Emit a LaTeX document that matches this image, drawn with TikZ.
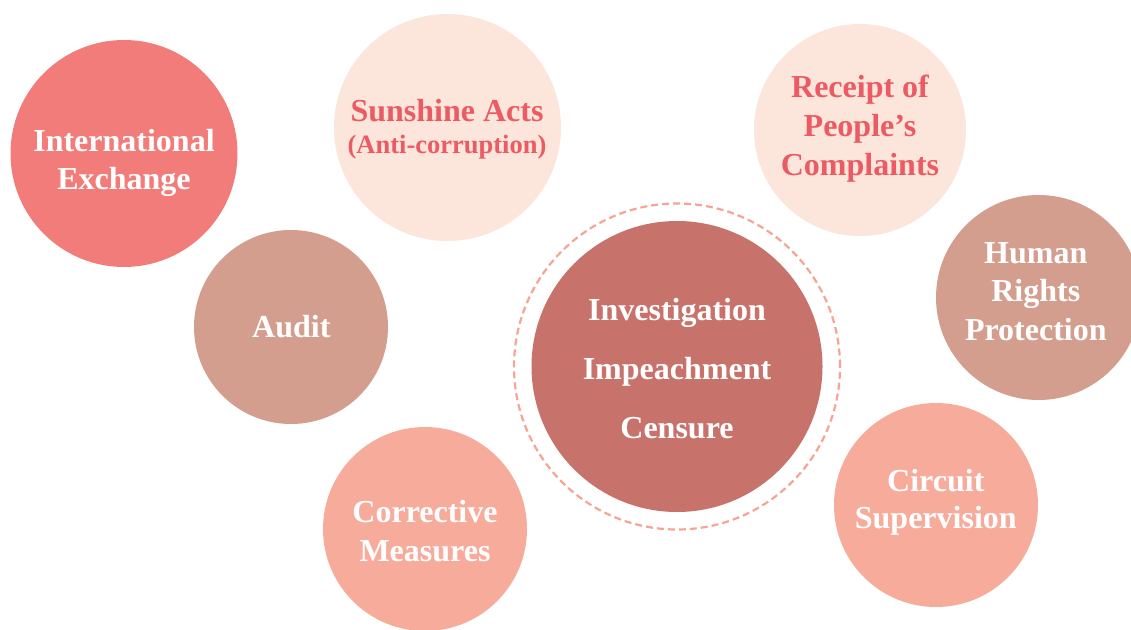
\documentclass[tikz,border=0pt]{standalone}
\usepackage{fontspec}
\setmainfont{Liberation Serif}
\definecolor{cIE}{HTML}{F27C7A}
\definecolor{cPale}{HTML}{FCE5DA}
\definecolor{cRedTxt}{HTML}{EC5A63}
\definecolor{cTaupe}{HTML}{D49E8E}
\definecolor{cCore}{HTML}{C7736B}
\definecolor{cSalmon}{HTML}{F7AB9B}
\definecolor{cRing}{HTML}{F4A595}
\begin{document}
\begin{tikzpicture}[x=1pt,y=-1pt,
  disc/.style={circle, inner sep=0pt, draw=none, minimum size=#1},
  lbl/.style={font=\bfseries\fontsize{32}{37}\selectfont, text=white, inner sep=0pt, anchor=base},
  lblred/.style={lbl, text=cRedTxt},
  lblsmall/.style={lblred, font=\bfseries\fontsize{26.5}{31}\selectfont},
  ring/.style={circle, inner sep=0pt, draw=cRing, line width=2.2pt, dash pattern=on 7pt off 4pt, minimum size=#1}]
\useasboundingbox (0,0) rectangle (1131,629);
\fill[white] (0,0) rectangle (1131,629);
% circles
\node[disc=227pt, fill=cIE] (ie) at (124,153.5) {};
\node[disc=227pt, fill=cPale] (sun) at (447.5,127.5) {};
\node[disc=212pt, fill=cPale] (rec) at (860,130) {};
\node[disc=205pt, fill=cTaupe] (hr) at (1038.5,297.5) {};
\node[disc=194pt, fill=cTaupe] (aud) at (291,327) {};
\node[ring=326pt] (rg) at (677,366.5) {};
\node[disc=291pt, fill=cCore] (core) at (677,366.5) {};
\node[disc=204pt, fill=cSalmon] (cor) at (425,529) {};
\node[disc=204pt, fill=cSalmon] (cir) at (936,505) {};
% labels
\node[lbl] (ie1) at (124,151.5) {International};
\node[lbl] (ie2) at (124,189) {Exchange};
\node[lblred] (sun1) at (447,121.5) {Sunshine Acts};
\node[lblsmall] (sun2) at (447,153.5) {(Anti-corruption)};
\node[lblred] (rec1) at (860,97) {Receipt of};
\node[lblred] (rec2) at (860,136) {People’s};
\node[lblred] (rec3) at (860,175) {Complaints};
\node[lbl] (hr1) at (1035.8,263.5) {Human};
\node[lbl] (hr2) at (1035.8,301.5) {Rights};
\node[lbl] (hr3) at (1035.8,340) {Protection};
\node[lbl] (aud1) at (291.3,337.5) {Audit};
\node[lbl] (core1) at (677,320) {Investigation};
\node[lbl] (core2) at (677,379) {Impeachment};
\node[lbl] (core3) at (677,438) {Censure};
\node[lbl] (cor1) at (425,522.5) {Corrective};
\node[lbl] (cor2) at (425,561) {Measures};
\node[lbl] (cir1) at (935.8,491) {Circuit};
\node[lbl] (cir2) at (935.8,528) {Supervision};
\end{tikzpicture}
\end{document}
